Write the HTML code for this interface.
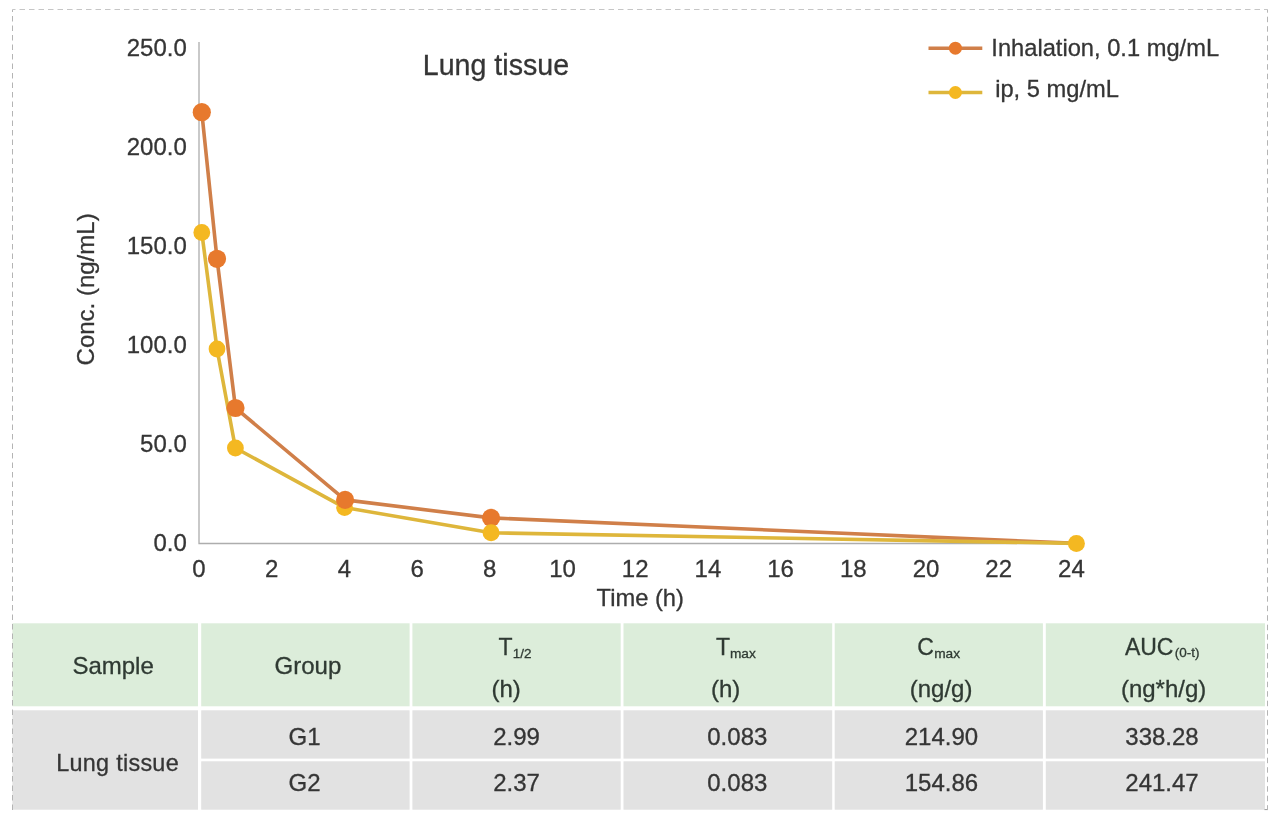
<!DOCTYPE html>
<html><head><meta charset="utf-8"><title>Lung tissue</title>
<style>
html,body{margin:0;padding:0;background:#fff;}
body{width:1280px;height:821px;overflow:hidden;}
svg{display:block;}
text{font-family:"Liberation Sans",Arial,sans-serif;fill:#353535;stroke:#353535;stroke-width:0.3px;}
text.h{fill:#2f3a33;stroke:#2f3a33;}
</style></head><body>
<svg width="1280" height="821" viewBox="0 0 1280 821">
<rect width="1280" height="821" fill="#fff"/>

<rect x="12.4" y="623.3" width="185.6" height="83.0" fill="#dcedda"/>
<rect x="201.2" y="623.3" width="208.4" height="83.0" fill="#dcedda"/>
<rect x="412.4" y="623.3" width="208.3" height="83.0" fill="#dcedda"/>
<rect x="623.5" y="623.3" width="208.7" height="83.0" fill="#dcedda"/>
<rect x="834.7" y="623.3" width="208.2" height="83.0" fill="#dcedda"/>
<rect x="1045.8" y="623.3" width="219.2" height="83.0" fill="#dcedda"/>
<rect x="12.4" y="710.3" width="185.6" height="99.4" fill="#e2e2e2"/>
<rect x="201.2" y="710.3" width="208.4" height="48.3" fill="#e2e2e2"/>
<rect x="201.2" y="761.3" width="208.4" height="48.4" fill="#e2e2e2"/>
<rect x="412.4" y="710.3" width="208.3" height="48.3" fill="#e2e2e2"/>
<rect x="412.4" y="761.3" width="208.3" height="48.4" fill="#e2e2e2"/>
<rect x="623.5" y="710.3" width="208.7" height="48.3" fill="#e2e2e2"/>
<rect x="623.5" y="761.3" width="208.7" height="48.4" fill="#e2e2e2"/>
<rect x="834.7" y="710.3" width="208.2" height="48.3" fill="#e2e2e2"/>
<rect x="834.7" y="761.3" width="208.2" height="48.4" fill="#e2e2e2"/>
<rect x="1045.8" y="710.3" width="219.2" height="48.3" fill="#e2e2e2"/>
<rect x="1045.8" y="761.3" width="219.2" height="48.4" fill="#e2e2e2"/>
<path d="M12.5 810 V9.5" fill="none" stroke="#b4b4b4" stroke-width="1" stroke-dasharray="5.5 4"/>
<path d="M12.5 9.5 H1267.5" fill="none" stroke="#c6c6c6" stroke-width="1" stroke-dasharray="5.5 4" stroke-dashoffset="2.5"/>
<path d="M1264.5 809.6 H1268" fill="none" stroke="#9a9a9a" stroke-width="1"/>
<path d="M1267.5 9.5 V810" fill="none" stroke="#b4b4b4" stroke-width="1" stroke-dasharray="5.5 4" stroke-dashoffset="2.3"/>
<path d="M199 42 V543.5 H1076" fill="none" stroke="#adadad" stroke-width="1.3"/>
<polyline points="201.80,112.20 217.00,258.80 235.50,408.00 345.10,499.90 491.10,517.90 1076.40,543.40" fill="none" stroke="#d07f49" stroke-width="3.6" stroke-linejoin="round" stroke-linecap="round"/>
<polyline points="201.80,232.50 217.00,349.00 235.40,448.00 344.60,507.60 491.10,532.80 1076.40,543.40" fill="none" stroke="#deb63b" stroke-width="3.6" stroke-linejoin="round" stroke-linecap="round"/>
<circle cx="201.80" cy="232.50" r="8.4" fill="#f4b821"/>
<circle cx="217.00" cy="349.00" r="8.4" fill="#f4b821"/>
<circle cx="235.40" cy="448.00" r="8.4" fill="#f4b821"/>
<circle cx="344.60" cy="507.60" r="8.4" fill="#f4b821"/>
<circle cx="201.80" cy="112.20" r="9.1" fill="#e7792d"/>
<circle cx="217.00" cy="258.80" r="9.1" fill="#e7792d"/>
<circle cx="235.50" cy="408.00" r="9.1" fill="#e7792d"/>
<circle cx="345.10" cy="499.90" r="9.1" fill="#e7792d"/>
<circle cx="491.10" cy="517.90" r="9.1" fill="#e7792d"/>
<circle cx="491.10" cy="532.80" r="8.5" fill="#f4b821"/>
<circle cx="1076.40" cy="543.40" r="8.5" fill="#f4b821"/>
<text x="186.8" y="56.3" font-size="24" text-anchor="end">250.0</text>
<text x="186.8" y="155.2" font-size="24" text-anchor="end">200.0</text>
<text x="186.8" y="254.1" font-size="24" text-anchor="end">150.0</text>
<text x="186.8" y="352.9" font-size="24" text-anchor="end">100.0</text>
<text x="186.8" y="451.8" font-size="24" text-anchor="end">50.0</text>
<text x="186.8" y="550.7" font-size="24" text-anchor="end">0.0</text>
<text x="199.0" y="577.4" font-size="24" text-anchor="middle">0</text>
<text x="271.7" y="577.4" font-size="24" text-anchor="middle">2</text>
<text x="344.4" y="577.4" font-size="24" text-anchor="middle">4</text>
<text x="417.1" y="577.4" font-size="24" text-anchor="middle">6</text>
<text x="489.8" y="577.4" font-size="24" text-anchor="middle">8</text>
<text x="562.5" y="577.4" font-size="24" text-anchor="middle">10</text>
<text x="635.2" y="577.4" font-size="24" text-anchor="middle">12</text>
<text x="707.9" y="577.4" font-size="24" text-anchor="middle">14</text>
<text x="780.6" y="577.4" font-size="24" text-anchor="middle">16</text>
<text x="853.3" y="577.4" font-size="24" text-anchor="middle">18</text>
<text x="926.0" y="577.4" font-size="24" text-anchor="middle">20</text>
<text x="998.7" y="577.4" font-size="24" text-anchor="middle">22</text>
<text x="1071.4" y="577.4" font-size="24" text-anchor="middle">24</text>
<text x="640.2" y="606.3" font-size="23.7" text-anchor="middle">Time (h)</text>
<text transform="translate(94.1,289.4) rotate(-90)" font-size="24" text-anchor="middle">Conc. (ng/mL)</text>
<text x="422.8" y="74.7" font-size="28.6">Lung tissue</text>
<line x1="928.5" y1="48.2" x2="982.3" y2="48.2" stroke="#d07f49" stroke-width="3.4"/>
<circle cx="955.4" cy="48.2" r="6.5" fill="#e7792d"/>
<line x1="928.5" y1="92.5" x2="982.3" y2="92.5" stroke="#deb63b" stroke-width="3.4"/>
<circle cx="955.4" cy="92.5" r="6.5" fill="#f4b821"/>
<text x="991.3" y="55.7" font-size="23.7">Inhalation, 0.1 mg/mL</text>
<text x="995.2" y="97.4" font-size="23.7">ip, 5 mg/mL</text>
<text x="113.1" y="673.5" font-size="24" text-anchor="middle" class="h">Sample</text>
<text x="307.9" y="674.2" font-size="24" text-anchor="middle" class="h">Group</text>
<text x="498.6" y="655.4" font-size="23" class="h">T<tspan font-size="13.5" dx="0" dy="2.8">1/2</tspan></text>
<text x="506.2" y="696.6" font-size="24" text-anchor="middle" class="h">(h)</text>
<text x="715.9" y="655.3" font-size="23" class="h">T<tspan font-size="13.7" dx="0" dy="2.9">max</tspan></text>
<text x="725.6" y="696.6" font-size="24" text-anchor="middle" class="h">(h)</text>
<text x="917.2" y="655.1" font-size="23" class="h">C<tspan font-size="13.7" dx="0.4" dy="3.1">max</tspan></text>
<text x="941.1" y="696.6" font-size="24" text-anchor="middle" class="h">(ng/g)</text>
<text x="1124.9" y="655.0" font-size="23" class="h">AUC<tspan font-size="13.5" dx="1.3" dy="2.3">(0-t)</tspan></text>
<text x="1163.6" y="696.6" font-size="24" text-anchor="middle" class="h">(ng*h/g)</text>
<text x="117.6" y="770.8" font-size="23.4" letter-spacing="0.28" text-anchor="middle">Lung tissue</text>
<text x="304.6" y="744.9" font-size="24" text-anchor="middle">G1</text>
<text x="304.6" y="790.7" font-size="24" text-anchor="middle">G2</text>
<text x="516.6" y="744.9" font-size="24" text-anchor="middle">2.99</text>
<text x="516.6" y="790.7" font-size="24" text-anchor="middle">2.37</text>
<text x="737.3" y="744.9" font-size="24" text-anchor="middle">0.083</text>
<text x="737.3" y="790.7" font-size="24" text-anchor="middle">0.083</text>
<text x="941.4" y="744.9" font-size="24" text-anchor="middle">214.90</text>
<text x="941.4" y="790.7" font-size="24" text-anchor="middle">154.86</text>
<text x="1162.0" y="744.9" font-size="24" text-anchor="middle">338.28</text>
<text x="1162.0" y="790.7" font-size="24" text-anchor="middle">241.47</text>
</svg></body></html>
